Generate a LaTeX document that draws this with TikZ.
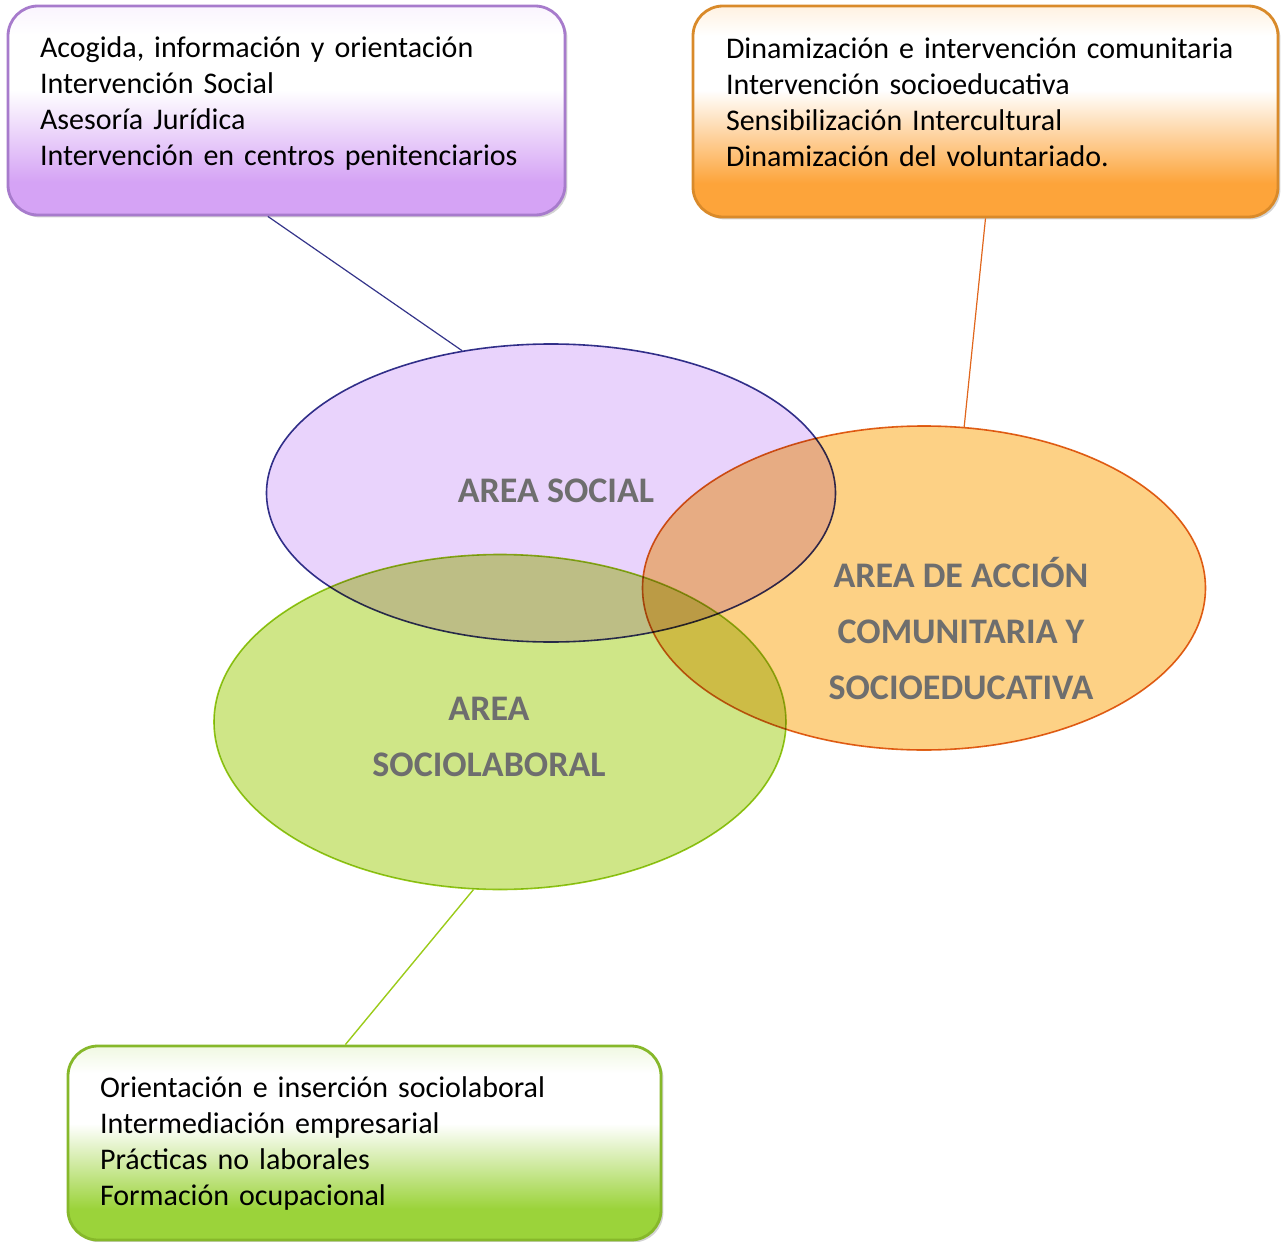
\documentclass[tikz,border=0pt]{standalone}
\usepackage{fontspec}
\setmainfont{Carlito}
\usetikzlibrary{shapes.geometric,shadows}
\definecolor{lila}{HTML}{D5A3F5}
\definecolor{lilaborde}{HTML}{A77BCC}
\definecolor{lilafondo}{HTML}{E9D3FC}
\definecolor{lilalinea}{HTML}{34348A}
\definecolor{naranja}{HTML}{FDA43A}
\definecolor{naranjaborde}{HTML}{D98A2A}
\definecolor{naranjafondo}{HTML}{FDD185}
\definecolor{naranjalinea}{HTML}{E0661C}
\definecolor{verde}{HTML}{9BD33A}
\definecolor{verdeborde}{HTML}{86B82A}
\definecolor{verdefondo}{HTML}{CFE687}
\definecolor{verdelinea}{HTML}{9BCB1A}
\definecolor{gristxt}{HTML}{6E6E6E}
\pgfdeclareverticalshading{sombralila}{100bp}{color(0bp)=(lila); color(33bp)=(lila);
	color(55bp)=(white); color(68bp)=(white); color(75bp)=(white!88!lila); color(100bp)=(white!88!lila)}
\pgfdeclareverticalshading{sombranaranja}{100bp}{color(0bp)=(naranja); color(33bp)=(naranja);
	color(55bp)=(white); color(68bp)=(white); color(75bp)=(white!85!naranja); color(100bp)=(white!85!naranja)}
\pgfdeclareverticalshading{sombraverde}{100bp}{color(0bp)=(verde); color(33bp)=(verde);
	color(55bp)=(white); color(68bp)=(white); color(75bp)=(white!85!verde); color(100bp)=(white!85!verde)}
\begin{document}
\begin{tikzpicture}
	[x=0.5pt,y=-0.5pt,
	caja/.style={rectangle,rounded corners=15pt,align=left,line width=1.4pt,
		font=\fontsize{15}{18}\selectfont,
		drop shadow={shadow xshift=1.2pt,shadow yshift=-1.2pt,opacity=0.35}},
	area/.style={ellipse,inner sep=0pt,line width=0.8pt},
	titulo/.style={font=\fontsize{18}{28}\selectfont\bfseries,text=gristxt,align=center}]
	\useasboundingbox (0,0) rectangle (1287,1242);
	% cajas
	\node[caja,name=socbox,draw=lilaborde,shading=sombralila,
		text width=246.5pt,inner xsep=16pt,minimum height=104.5pt,text depth=63pt]at(286.5,110.5)
		{Acogida, información y orientación\\Intervención Social\\Asesoría Jurídica\\Intervención en centros penitenciarios};
	\node[caja,name=combox,draw=naranjaborde,shading=sombranaranja,
		text width=259.5pt,inner xsep=16.5pt,minimum height=105.5pt,text depth=63pt]at(985.5,111.5)
		{Dinamización e intervención comunitaria\\Intervención socioeducativa\\Sensibilización Intercultural\\Dinamización del voluntariado.};
	\node[caja,name=labbox,draw=verdeborde,shading=sombraverde,
		text width=264.5pt,inner xsep=16pt,minimum height=97pt]at(364.5,1143)
		{Orientación e inserción sociolaboral\\Intermediación empresarial\\Prácticas no laborales\\Formación ocupacional};
	% areas
	\begin{scope}[blend mode=multiply]
		\node[area,name=social,draw=lilalinea,fill=lilafondo,minimum width=284.5pt,minimum height=149pt]at(551,493){};
		\node[area,name=comunit,draw=naranjalinea,fill=naranjafondo,minimum width=281.5pt,minimum height=162pt]at(924,588){};
		\node[area,name=laboral,draw=verdelinea,fill=verdefondo,minimum width=286pt,minimum height=167.5pt]at(500,722){};
	\end{scope}
	\node[titulo,name=t1]at(556,491){AREA SOCIAL};
	\node[titulo,name=t2]at(961,629){AREA DE ACCIÓN\\COMUNITARIA Y\\SOCIOEDUCATIVA};
	\node[titulo,name=t3]at(489,737){AREA\\SOCIOLABORAL};
	% lineas
	\draw[lilalinea,line width=0.6pt] (socbox.260)--(social.122);
	\draw[naranjalinea,line width=0.6pt] (combox.south)--(comunit.76);
	\draw[verdelinea,line width=0.7pt] (laboral.261)--(labbox.101);
\end{tikzpicture}
\end{document}
